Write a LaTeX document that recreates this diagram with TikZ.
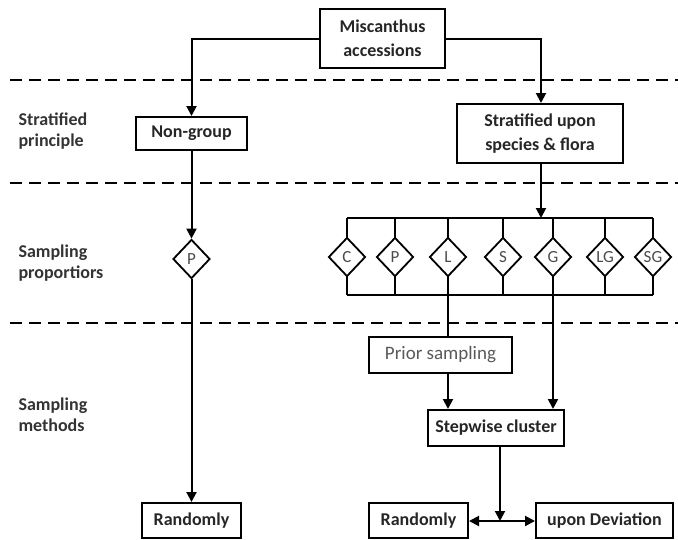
\documentclass[tikz,border=0pt]{standalone}
\usepackage{fontspec}
\setmainfont{Carlito}
\usetikzlibrary{arrows.meta,shapes.geometric}
\begin{document}
\begin{tikzpicture}[x=1pt,y=-1pt,
  box/.style={draw,line width=2pt,inner sep=0pt,font=\bfseries\fontsize{18}{24}\selectfont,text=black!85,align=center},
  dia/.style={draw,line width=1.8pt,diamond,fill=white,inner sep=0pt,minimum width=37pt,minimum height=39pt,font=\fontsize{17}{19}\selectfont,text=black!70},
  ln/.style={line width=2pt},
  arr/.style={line width=2pt,-{Triangle[length=10pt,width=10pt]}},
  sep/.style={line width=2.2pt,dash pattern=on 12pt off 7pt},
  lab/.style={anchor=west,align=left,font=\bfseries\fontsize{18}{21}\selectfont,text=black!80}]
\useasboundingbox (0,0) rectangle (678,539);
% separators
\coordinate (s1a) at (10,80); \coordinate (s1b) at (678,80);
\coordinate (s2a) at (10,183); \coordinate (s2b) at (678,183);
\coordinate (s3a) at (10,323); \coordinate (s3b) at (678,323);
\draw[sep] (s1a) -- (s1b);
\draw[sep] (s2a) -- (s2b);
\draw[sep] (s3a) -- (s3b);
% left labels
\node[lab] (l1) at (15,131) {Stratified\\principle};
\node[lab] (l2) at (15,263) {Sampling\\proportiors};
\node[lab] (l3) at (15,415) {Sampling\\methods};
% boxes
\node[box,minimum width=125pt,minimum height=59pt] (mis) at (382.5,38.5) {Miscanthus\\accessions};
\node[box,minimum width=111pt,minimum height=33pt] (ng) at (191.5,133.5) {Non-group};
\node[box,minimum width=166pt,minimum height=59pt] (su) at (540,133.5) {Stratified upon\\species \& flora};
\node[box,minimum width=143pt,minimum height=36pt,font=\fontsize{19}{21}\selectfont,text=black!65] (ps) at (440.5,355) {Prior sampling};
\node[box,minimum width=136pt,minimum height=36pt] (sc) at (496,428) {Stepwise cluster};
\node[box,minimum width=99pt,minimum height=35pt] (r2) at (418.5,520.5) {Randomly};
\node[box,minimum width=137pt,minimum height=35pt] (ud) at (604.5,520.5) {upon Deviation};
\node[box,minimum width=99pt,minimum height=35pt] (r1) at (191.5,520.5) {Randomly};
% bus
\coordinate (bt1) at (347,218); \coordinate (bt2) at (653,218);
\coordinate (bb1) at (347,295); \coordinate (bb2) at (653,295);
\draw[ln] (bt1) -- (bt2);
\draw[ln] (bb1) -- (bb2);
\foreach \x/\n/\t in {347/c/C,395/p/P,448/l/L,503/s/S,553/g/G,605/lg/LG,653/sg/SG}{
  \coordinate (t\n) at (\x,218); \coordinate (b\n) at (\x,295);
  \draw[ln] (t\n) -- (b\n);
  \node[dia] (d\n) at (\x,257) {\t};
}
\node[dia] (pl) at (191.5,259) {P};
% connectors
\coordinate (mL) at (191.5,38.5);
\coordinate (mR) at (541,38.5);
\draw[arr] (mis.west) -- (mL) -- (ng.north);
\draw[arr] (mis.east) -- (mR) -- (mR |- su.north);
\coordinate (su1) at (541,218);
\draw[arr] (su.south -| su1) -- (su1);
\draw[arr] (ng.south) -- (pl.north);
\draw[arr] (pl.south) -- (pl.south |- r1.north);
\draw[ln] (bl) -- (ps.north -| bl);
\draw[arr] (ps.south -| bl) -- (sc.north -| bl);
\draw[arr] (bg) -- (sc.north -| bg);
\coordinate (j) at (500,521);
\draw[arr] (sc.south -| j) -- (j);
\draw[arr] (j) -- (r2.east |- j);
\draw[arr] (j) -- (ud.west |- j);
\end{tikzpicture}
\end{document}
